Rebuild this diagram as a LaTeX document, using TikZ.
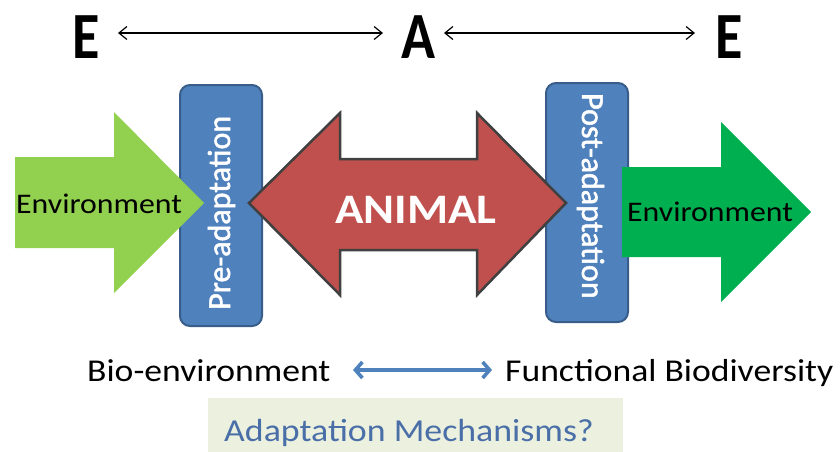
\documentclass[tikz,border=0pt]{standalone}
\usepackage{fontspec}
\setmainfont{Carlito}
\newfontfamily\calw[FakeStretch=1.12]{Carlito}
\newfontfamily\calc[FakeStretch=0.85]{Carlito}
\newfontfamily\calr[FakeBold=1.6]{Carlito}
\usetikzlibrary{arrows.meta}
\definecolor{lgreen}{HTML}{92D050}
\definecolor{dgreen}{HTML}{00B050}
\definecolor{boxblue}{HTML}{4F81BD}
\definecolor{boxedge}{HTML}{385D8A}
\definecolor{animred}{HTML}{C0504D}
\definecolor{animedge}{HTML}{404040}
\definecolor{paleg}{HTML}{EBF1DE}
\definecolor{qblue}{HTML}{4A6EA8}
\tikzset{
  adbox/.style={fill=boxblue, draw=boxedge, line width=2pt, rounded corners=10pt},
  bigletter/.style={inner sep=0pt, font=\calc\bfseries\fontsize{66}{70}\selectfont},
  toparrow/.style={{Straight Barb[length=8pt,width=13pt]}-{Straight Barb[length=8pt,width=13pt]}, line width=1.2pt},
  envtext/.style={inner sep=0pt, anchor=base west, font=\calw\fontsize{28.4}{32}\selectfont},
  rottext/.style={inner sep=0pt, anchor=base west, text=white, font=\calr\fontsize{32}{36}\selectfont},
  bottext/.style={inner sep=0pt, anchor=base west, font=\calw\fontsize{31.8}{36}\selectfont},
  botarrow/.style={{Straight Barb[length=7pt,width=16pt]}-{Straight Barb[length=7pt,width=16pt]}, draw=boxblue, line width=3.6pt},
}
\begin{document}
\begin{tikzpicture}[x=1pt,y=-1pt]
\useasboundingbox (0,0) rectangle (840,452);
% top letters
\node[bigletter] (e1) at (86,37) {E};
\node[bigletter] (a) at (418,37) {A};
\node[bigletter] (e2) at (729,37) {E};
\coordinate (t1s) at (118,33);
\coordinate (t1e) at (383,33);
\coordinate (t2s) at (444,33);
\coordinate (t2e) at (695,33);
\draw[toparrow] (t1s) -- (t1e);
\draw[toparrow] (t2s) -- (t2e);
% blue boxes
\path[adbox] (180,85) rectangle (262,326);
\path[adbox] (546,83) rectangle (628,322);
% green arrows
\fill[lgreen] (15,157) -- (114,157) -- (114,112) -- (204,203) -- (114,293) -- (114,248) -- (15,248) -- cycle;
\fill[dgreen] (622,167) -- (721,167) -- (721,122) -- (811,212) -- (721,302) -- (721,257) -- (622,257) -- cycle;
% red double arrow
\filldraw[fill=animred, draw=animedge, line width=2.5pt, line join=miter]
  (249,203) -- (340,113) -- (340,159) -- (477,159) -- (477,113) -- (566,203)
  -- (477,295) -- (477,250) -- (340,250) -- (340,295) -- cycle;
% texts
\node[envtext] (envl) at (16,213) {Environment};
\node[envtext] (envr) at (627,221) {Environment};
\node[inner sep=0pt, anchor=base west, text=white, font=\calw\bfseries\fontsize{42}{46}\selectfont] (animal) at (335,223) {ANIMAL};
\node[rottext, rotate=90] (pre) at (230,310) {Pre-adaptation};
\node[rottext, rotate=-90] (post) at (582,93) {Post-adaptation};
% bottom
\node[bottext] (bio) at (87,381) {Bio-environment};
\node[bottext] (func) at (505,381) {Functional Biodiversity};
\coordinate (ba) at (353,370);
\coordinate (bb) at (492,370);
\draw[botarrow] (ba) -- (bb);
\fill[paleg] (208,398) rectangle (623,452);
\node[inner sep=0pt, anchor=base west, text=qblue, font=\calw\fontsize{32}{36}\selectfont] (adapt) at (224,441) {Adaptation Mechanisms?};
\end{tikzpicture}
\end{document}
